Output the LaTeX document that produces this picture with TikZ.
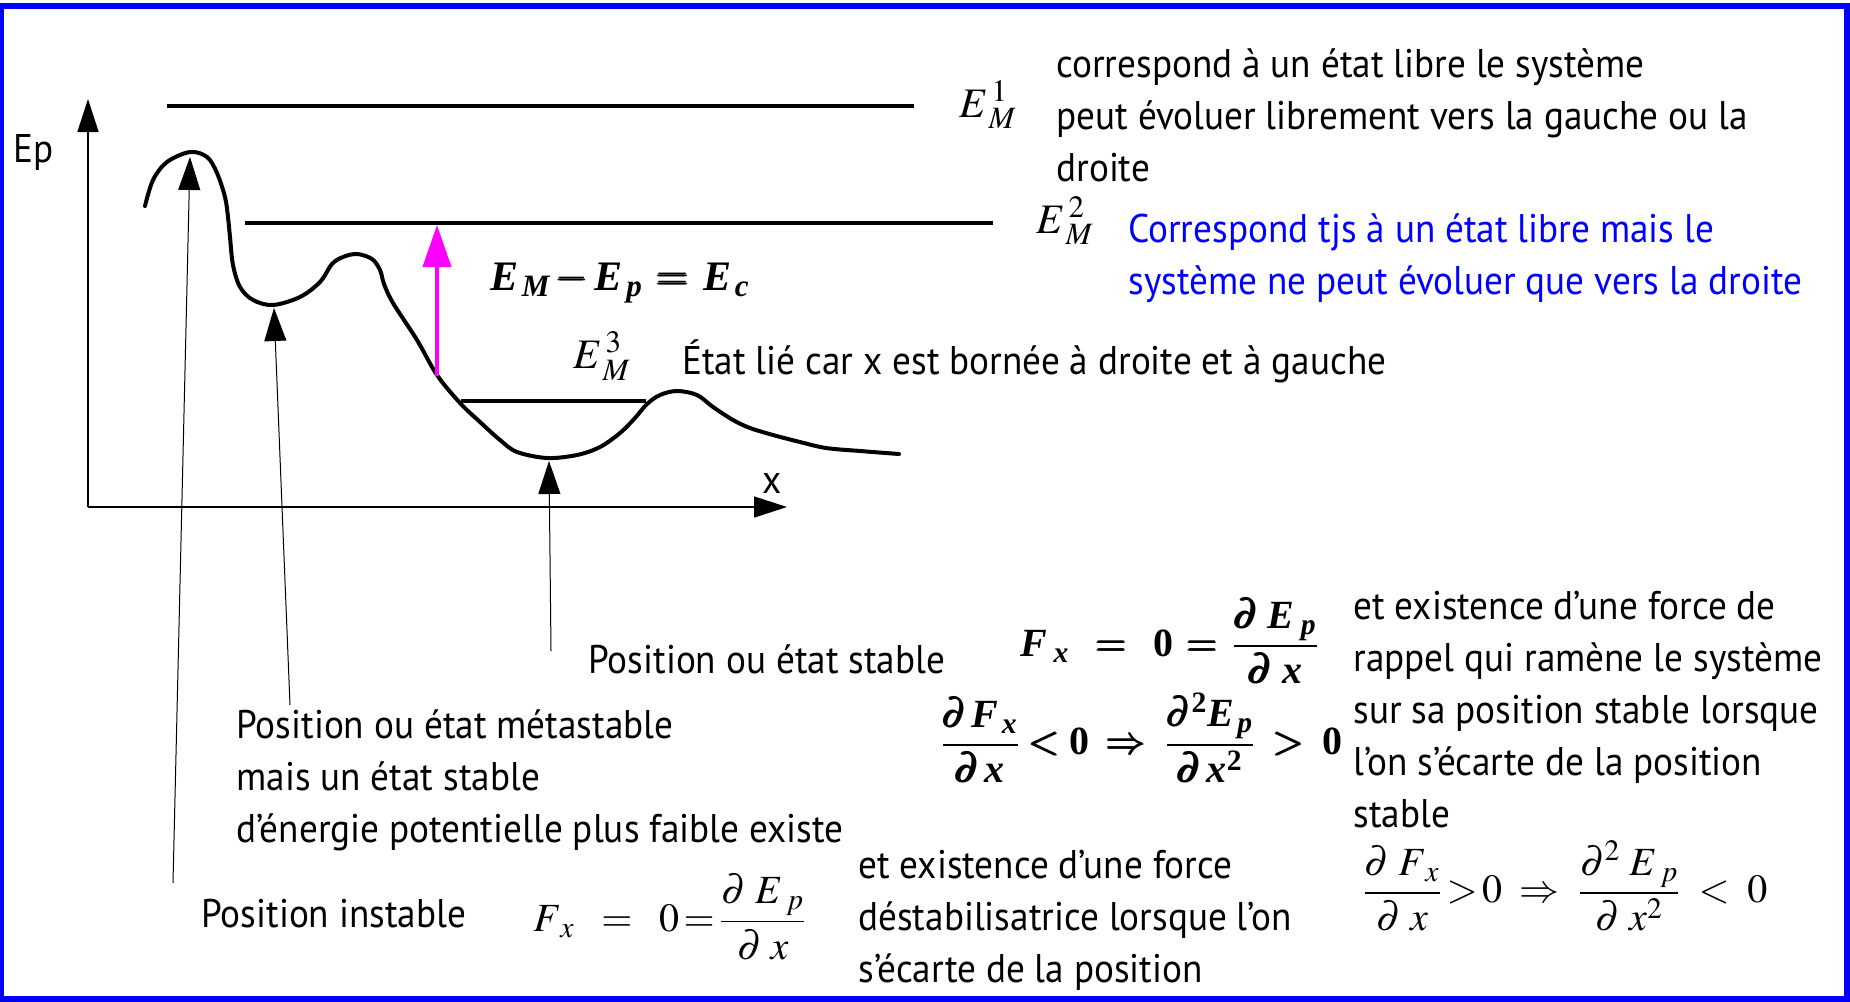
\documentclass[tikz,border=0pt]{standalone}
\usepackage{amsmath}
\usepackage{mathptmx}
\usepackage[no-math]{fontspec}
\setmainfont{PT Sans}[FakeStretch=0.93]
\newfontfamily\tnr{Liberation Serif}
\usetikzlibrary{arrows.meta}
\definecolor{mag}{RGB}{255,0,255}
\definecolor{pureblue}{RGB}{0,0,255}
\newcommand\mylines[1]{\begin{tabular}[t]{@{}l@{}}#1\end{tabular}}
\newcommand\vb[1]{\text{\tnr\bfseries\itshape #1}}
\newcommand\nb[1]{\text{\tnr\bfseries #1}}
\tikzset{
  frame/.style={draw=pureblue, line width=3pt},
  txt/.style={font=\fontsize{20}{26}\selectfont, inner sep=0pt, anchor=base west},
  mth/.style={font=\fontsize{20}{24}\selectfont, inner sep=0pt, anchor=west},
  lbl/.style={font=\fontsize{21}{24}\selectfont, inner sep=0pt, anchor=base west},
  level/.style={line width=1.7pt},
  curve/.style={line width=2pt, line join=round, line cap=round},
  axis/.style={line width=0.8pt, -{Triangle[length=16.5pt,width=10.5pt]}},
  pointer/.style={line width=0.5pt, -{Triangle[length=16.5pt,width=11pt]}},
  ecarrow/.style={line width=2pt, mag, -{Triangle[length=21pt,width=14pt]}}
}
\begin{document}
\begin{tikzpicture}[x=0.5pt,y=-0.5pt]
\useasboundingbox (0,0) rectangle (1850,1001);
\draw[frame] (0.5,6) rectangle (1847,999);

% axes
\coordinate (O) at (88,507);
\coordinate (Ytip) at (88,99);
\coordinate (Xtip) at (787,507);
\draw[axis] (O) -- (Ytip);
\draw[axis] (O) -- (Xtip);
\node[txt] (ep) at (13,162) {Ep};
\node[txt] (xl) at (762,493) {x};

% energy levels
\coordinate (L1a) at (167,106); \coordinate (L1b) at (914,106);
\coordinate (L2a) at (245,223); \coordinate (L2b) at (993,223);
\coordinate (L3a) at (461,401); \coordinate (L3b) at (646,401);
\draw[level] (L1a) -- (L1b);
\draw[level] (L2a) -- (L2b);
\draw[level] (L3a) -- (L3b);

% potential energy curve
\draw[curve] plot[smooth, tension=0.55] coordinates {
 (145,206) (153,180) (167,162) (190,152) (207,157) (217,173) (225,197)
 (228,217) (230,237) (233,265) (240,287) (253,300) (273,305) (300,297)
 (320,282) (332,264) (343,257) (357,254) (372,259) (380,270) (384,284)
 (393,303) (417,340) (437,375) (460,403) (480,422) (500,440) (517,452)
 (547,458) (577,455) (600,447) (620,433) (635,418) (647,404) (660,395)
 (677,391) (697,395) (713,407) (733,420) (750,428) (773,435) (800,442)
 (826,448) (860,451) (899,454)};

% kinetic energy arrow
\coordinate (ecbase) at (437,376);
\coordinate (ectip) at (437,225);
\draw[ecarrow] (ecbase) -- (ectip);

% pointer arrows
\coordinate (peakA) at (190,157);
\coordinate (wellA) at (274,308);
\coordinate (wellB) at (549,461);
\coordinate (pinst) at (173,883);
\coordinate (pmeta) at (290,705);
\coordinate (pstab) at (551,651);
\draw[pointer] (pinst) -- (peakA);
\draw[pointer] (pmeta) -- (wellA);
\draw[pointer] (pstab) -- (wellB);

% level labels
\node[lbl] (e1) at (959,117) {$E_{\,M}^{\,1}$};
\node[lbl] (e2) at (1036,233) {$E_{\,M}^{\,2}$};
\node[lbl] (e3) at (573,368) {$E_{\,M}^{\,3}$};
\node[lbl] (ec) at (490,290) {$\vb{E}_{\,\vb{M}}\pmb{-}\vb{E}_{\,\vb{p}}\,\pmb{=}\,\vb{E}_{\,\vb{c}}$};

% texts
\node[txt] (t1) at (1056,77) {\mylines{correspond à un état libre le système\\peut évoluer librement vers la gauche ou la\\droite}};
\node[txt, text=pureblue] (t2) at (1128,242) {\mylines{Correspond tjs à un état libre mais le\\système ne peut évoluer que vers la droite}};
\node[txt] (t3) at (682,374) {État lié car x est bornée à droite et à gauche};
\node[txt] (tstab) at (588,673) {Position ou état stable};
\node[txt] (tmeta) at (236,738) {\mylines{Position ou état métastable\\mais un état stable\\d’énergie potentielle plus faible existe}};
\node[txt] (tinst) at (201,927) {Position instable};
\node[txt] (tdest) at (858,878) {\mylines{et existence d’une force\\déstabilisatrice lorsque l’on\\s’écarte de la position}};
\node[txt] (trapp) at (1353,619) {\mylines{et existence d’une force de\\rappel qui ramène le système\\sur sa position stable lorsque\\l’on s’écarte de la position\\stable}};

% formulas
\node[mth] (f1) at (1020,641) {$\displaystyle \vb{F}_{\;\vb{x}}\;\;\pmb{=}\;\;\nb{0}\,\pmb{=}\,\frac{\pmb{\partial}\;\vb{E}_{\;\vb{p}}}{\pmb{\partial}\;\vb{x}}$};
\node[mth] (f2) at (940,738) {$\displaystyle \frac{\pmb{\partial}\,\vb{F}_{\,\vb{x}}}{\pmb{\partial}\,\vb{x}}\pmb{<}\nb{0}\;\pmb{\Rightarrow}\;\frac{\pmb{\partial}^{\nb{2}}\vb{E}_{\,\vb{p}}}{\pmb{\partial}\,\vb{x}^{\nb{2}}}\;\pmb{>}\;\nb{0}$};
\node[mth] (f3) at (1362,886) {$\displaystyle \frac{\partial\;F_{\;x}}{\partial\;x}\,{>}\,0\;\Rightarrow\;\frac{\partial^2\;E_{\;p}}{\partial\;x^{2}}\;<\;0$};
\node[mth] (f4) at (533,917) {$\displaystyle F_{\;x}\;\;=\;\;0\,{=}\,\frac{\partial\;E_{\;p}}{\partial\;x}$};
\end{tikzpicture}
\end{document}
